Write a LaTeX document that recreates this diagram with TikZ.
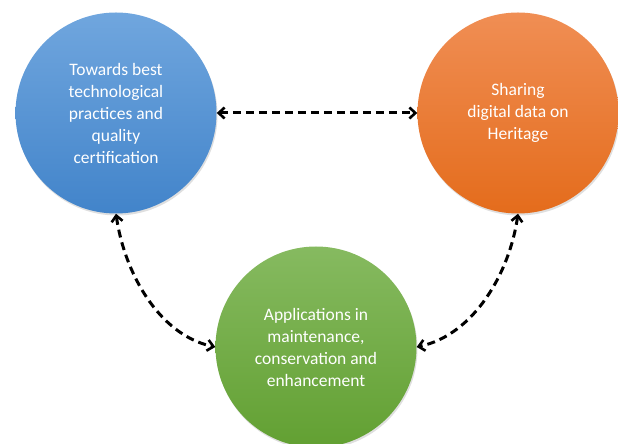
\documentclass[tikz,border=0pt]{standalone}
\usepackage{fontspec}
\setmainfont{Carlito}
\usepackage{xcolor}
\usetikzlibrary{positioning, calc, arrows.meta, shadows}
\definecolor{bluetop}{RGB}{112, 166, 222}
\definecolor{bluebot}{RGB}{66, 132, 202}
\definecolor{orangetop}{RGB}{240, 142, 84}
\definecolor{orangebot}{RGB}{228, 108, 28}
\definecolor{greentop}{RGB}{134, 186, 96}
\definecolor{greenbot}{RGB}{98, 160, 50}

\begin{document}
\begin{tikzpicture}[
  x=1pt, y=1pt,
  topic/.style={circle, minimum size=201pt, inner sep=0, text=white, align=center,
    font=\fontsize{17.5}{22}\selectfont, drop shadow={opacity=0.25, shadow xshift=1pt, shadow yshift=-2pt}},
  topic blue/.style={topic, top color=bluetop, bottom color=bluebot},
  topic orange/.style={topic, top color=orangetop, bottom color=orangebot},
  topic green/.style={topic, top color=greentop, bottom color=greenbot},
  link/.style={line width=3pt, dash pattern=on 8pt off 5pt, {Straight Barb[length=6pt, width=11pt, line width=2.6pt]}-{Straight Barb[length=6pt, width=11pt, line width=2.6pt]}},
]

\useasboundingbox (0,0) rectangle (618,444);

% ==================== circles ====================
\node[topic blue] (practices) at (116,331) {Towards best\\technological\\practices and\\quality\\certification};
\node[topic orange] (sharing) at (518,331) {Sharing\\digital data on\\Heritage};
\node[topic green] (applications) at (316,97) {Applications in\\maintenance,\\conservation and\\enhancement};

% ==================== links ====================
\draw[link] (practices.east) -- (sharing.west);
\draw[link] (practices.south) to[out=-82, in=168, looseness=0.9] (applications.west);
\draw[link] (sharing.south) to[out=-98, in=12, looseness=0.9] (applications.east);

\end{tikzpicture}
\end{document}
